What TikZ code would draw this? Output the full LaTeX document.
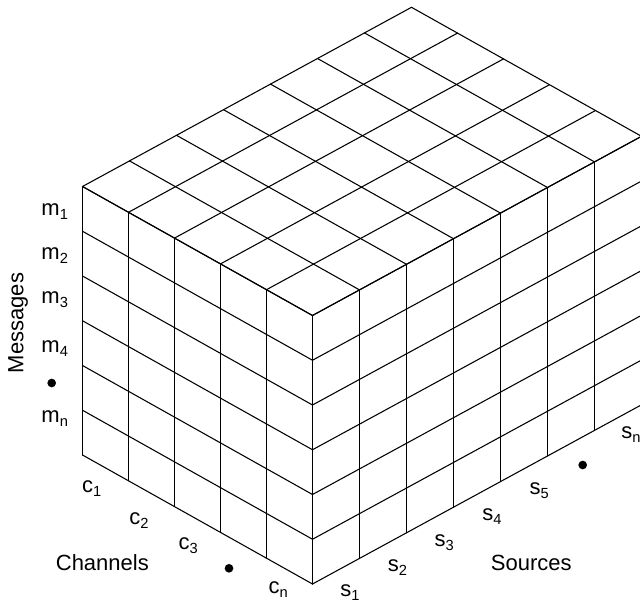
\documentclass[tikz,border=0pt]{standalone}
\usepackage{fontspec}
\setmainfont{Liberation Sans}
\usetikzlibrary{calc}
% letter with a lowered, smaller index
\newcommand\idx[2]{#1\raisebox{-3pt}{\fontsize{11pt}{11pt}\selectfont #2}}
\begin{document}
\begin{tikzpicture}[x=0.75pt,y=-0.75pt,
  gridline/.style={line width=0.8pt, line cap=round, line join=round},
  axislabel/.style={anchor=base west, inner sep=0pt, font=\fontsize{16.5pt}{18pt}\selectfont},
  bullet/.style={circle, fill=black, inner sep=0pt, minimum size=6.5pt}]
\useasboundingbox (0,0) rectangle (640,603);

% front bottom corner of the block
\coordinate (F) at (312.5,584);

% left face: channels x messages
\foreach \i in {0,...,5}
  \draw[gridline] ($(F)+({-46*(5-\i)},{-25.8*(5-\i)})$) -- ++(0,-268.5);
\foreach \j in {0,...,6}
  \draw[gridline] ($(F)+(-230,{-129-44.75*\j})$) -- ++(230,129);

% right face: sources x messages
\foreach \k in {0,...,7}
  \draw[gridline] ($(F)+({47*\k},{-25.6*\k})$) -- ++(0,-268.5);
\foreach \j in {0,...,6}
  \draw[gridline] ($(F)+(0,{-44.75*\j})$) -- ++(329,-179.2);

% top face: channels x sources
\foreach \i in {0,...,5}
  \draw[gridline] ($(F)+({-46*(5-\i)},{-25.8*(5-\i)-268.5})$) -- ++(329,-179.2);
\foreach \k in {0,...,7}
  \draw[gridline] ($(F)+({47*\k-230},{-25.6*\k-129-268.5})$) -- ++(230,129);

% messages axis
\node[axislabel, rotate=90] (msg) at (23.3,373.3) {Messages};
\node[axislabel] (m1) at (41.2,215) {\idx{m}{1}};
\node[axislabel] (m2) at (41.2,259.5) {\idx{m}{2}};
\node[axislabel] (m3) at (41.2,303) {\idx{m}{3}};
\node[axislabel] (m4) at (41.2,352.5) {\idx{m}{4}};
\node[bullet] (mdot) at (51.7,383) {};
\node[axislabel] (mn) at (41.2,422) {\idx{m}{n}};

% channels axis
\node[axislabel] (chan) at (55.6,570) {Channels};
\node[axislabel] (c1) at (81.8,492) {\idx{c}{1}};
\node[axislabel] (c2) at (129,524) {\idx{c}{2}};
\node[axislabel] (c3) at (178.4,549.5) {\idx{c}{3}};
\node[bullet] (cdot) at (229,568.3) {};
\node[axislabel] (cn) at (268.4,593) {\idx{c}{n}};

% sources axis
\node[axislabel] (src) at (490.6,570) {Sources};
\node[axislabel] (s1) at (340,596) {\idx{s}{1}};
\node[axislabel] (s2) at (387.6,571) {\idx{s}{2}};
\node[axislabel] (s3) at (434.3,546.7) {\idx{s}{3}};
\node[axislabel] (s4) at (482,520) {\idx{s}{4}};
\node[axislabel] (s5) at (529.3,494) {\idx{s}{5}};
\node[bullet] (sdot) at (582.7,465) {};
\node[axislabel] (sn) at (621,438.3) {\idx{s}{n}};
\end{tikzpicture}
\end{document}
